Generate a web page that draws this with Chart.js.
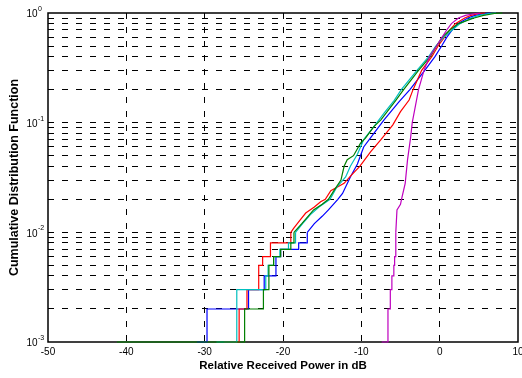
<!DOCTYPE html>
<html><head><meta charset="utf-8">
<script src="https://cdn.jsdelivr.net/npm/chart.js@4"></script>
<style>html,body{margin:0;padding:0;background:#fff;}#wrap{width:522px;height:378px;position:relative;}</style>
</head><body><div id="wrap"><canvas id="c"></canvas></div>
<script>
// ---- data ----
const xTickValues = [-50, -40, -30, -20, -10, 0, 10];
const yLabelValues = [1, 0.1, 0.01, 0.001];
const yLabelExps = ['0', '-1', '-2', '-3'];
const yMultipliers = [1, 2, 3, 4, 5, 6, 7, 8, 9];
const yDecades = [0.001, 0.01, 0.1];

// low tail (stair part) and upper part of each empirical CDF
const blueLowX = [-31, -29.7, -24.4, -22.4, -20.9, -20.3, -18.0, -16.9];
const blueLowY = [0.001, 0.002, 0.003, 0.004, 0.006, 0.007, 0.008, 0.010];
const blueHiX = [-16.9, -16.0, -15.0, -14.2, -13.0, -12.4, -11.4, -10.5, -9.7, -8.4, -7.1, -5.2, -3.8, -1.9, -0.6, 0.25, 0.9, 1.6, 2.3, 3.6, 4.5, 5.8, 6.5];
const blueHiY = [0.010, 0.012, 0.014, 0.016, 0.020, 0.0226, 0.032, 0.042, 0.060, 0.080, 0.106, 0.155, 0.20, 0.30, 0.40, 0.50, 0.60, 0.70, 0.80, 0.90, 0.95, 0.99, 1.0];

const greenLowX = [-41.2, -24.9, -22.5, -21.8, -21.2, -20.3, -19.0, -18.6];
const greenLowY = [0.001, 0.002, 0.003, 0.005, 0.006, 0.007, 0.008, 0.010];
const greenHiX = [-18.6, -17.6, -16.8, -16.1, -15.0, -14.2, -13.5, -12.6, -12.2, -11.8, -11.0, -10.1, -9.5, -8.4, -7.5, -5.6, -4.6, -2.7, -1.2, -0.4, 0.3, 1.3, 2.4, 4.4, 5.6, 7.0, 8.0];
const greenHiY = [0.010, 0.012, 0.014, 0.016, 0.018, 0.020, 0.024, 0.030, 0.040, 0.046, 0.050, 0.065, 0.072, 0.092, 0.106, 0.16, 0.20, 0.30, 0.40, 0.50, 0.60, 0.70, 0.80, 0.90, 0.95, 0.99, 1.0];

const redLowX = [-27.5, -25.6, -24.6, -23.1, -22.6, -21.6, -19.0];
const redLowY = [0.001, 0.002, 0.003, 0.005, 0.006, 0.008, 0.010];
const redHiX = [-19.0, -18.6, -17.8, -17.1, -16.0, -15.2, -14.6, -13.9, -12.2, -11.3, -10.2, -8.8, -7.5, -6.0, -5.0, -3.9, -3.4, -2.3, -1.0, -0.2, 0.6, 1.3, 2.0, 3.2, 4.0, 5.0, 5.8];
const redHiY = [0.010, 0.011, 0.013, 0.015, 0.017, 0.019, 0.020, 0.024, 0.028, 0.033, 0.040, 0.0545, 0.070, 0.095, 0.126, 0.161, 0.20, 0.30, 0.40, 0.50, 0.60, 0.70, 0.80, 0.90, 0.95, 0.99, 1.0];

const cyanLowX = [-28.5, -25.9, -22.2, -21.9, -21.2, -20.4, -19.3, -18.4];
const cyanLowY = [0.001, 0.003, 0.004, 0.005, 0.006, 0.007, 0.008, 0.010];
const cyanHiX = [-18.4, -17.5, -16.5, -15.4, -14.0, -13.1, -12.0, -11.4, -10.5, -9.7, -8.4, -7.1, -5.8, -4.9, -2.9, -1.4, -0.5, 0.5, 1.6, 2.6, 4.0, 5.0, 6.3, 7.2];
const cyanHiY = [0.010, 0.012, 0.0145, 0.017, 0.020, 0.026, 0.032, 0.040, 0.0515, 0.070, 0.092, 0.122, 0.16, 0.20, 0.30, 0.40, 0.50, 0.60, 0.70, 0.80, 0.90, 0.95, 0.99, 1.0];

const magLowX = [-7.4, -6.6, -6.3, -6.1, -5.85, -5.75, -5.6];
const magLowY = [0.001, 0.002, 0.003, 0.004, 0.005, 0.006, 0.010];
const magHiX = [-5.6, -5.45, -5.0, -4.8, -4.4, -4.1, -3.7, -3.5, -2.7, -2.0, -1.3, -0.4, 0.3, 0.9, 1.5, 2.4, 3.3, 4.6, 5.2];
const magHiY = [0.010, 0.016, 0.018, 0.021, 0.028, 0.046, 0.074, 0.10, 0.20, 0.30, 0.40, 0.50, 0.60, 0.70, 0.80, 0.90, 0.95, 0.99, 1.0];

const series = [
  {lx: blueLowX, ly: blueLowY, hx: blueHiX, hy: blueHiY, color: '#0000ff', order: 5},
  {lx: redLowX, ly: redLowY, hx: redHiX, hy: redHiY, color: '#ff0000', order: 4},
  {lx: cyanLowX, ly: cyanLowY, hx: cyanHiX, hy: cyanHiY, color: '#00bfbf', order: 3},
  {lx: greenLowX, ly: greenLowY, hx: greenHiX, hy: greenHiY, color: '#008000', order: 2},
  {lx: magLowX, ly: magLowY, hx: magHiX, hy: magHiY, color: '#bf00bf', order: 1}
];

const pts = (xs, ys) => xs.map((x, i) => ({x: x, y: ys[i]}));
const datasets = [];
series.forEach(s => {
  datasets.push({data: pts(s.lx, s.ly), borderColor: s.color, borderWidth: 1.2, pointRadius: 0, stepped: true, fill: false, order: s.order, clip: 2});
  datasets.push({data: pts(s.hx, s.hy), borderColor: s.color, borderWidth: 1.2, pointRadius: 0, tension: 0, fill: false, order: s.order, clip: 2});
});

const yGridValues = [];
yDecades.forEach(d => yMultipliers.forEach(m => yGridValues.push(+(d * m).toPrecision(3))));
yGridValues.push(1);

const FONT = '"Liberation Sans", Arial, Helvetica, sans-serif';
const near = (a, b) => Math.abs(a - b) < 1e-9 * Math.max(1, Math.abs(b));

const decor = {
  id: 'decor',
  beforeDatasetsDraw(chart) {
    const {ctx, chartArea: a} = chart;
    ctx.save();
    ctx.strokeStyle = '#000';
    ctx.lineWidth = 1.5;
    ctx.strokeRect(a.left, a.top, a.right - a.left, a.bottom - a.top);
    ctx.restore();
  },
  afterDraw(chart) {
    const {ctx, scales: {y}} = chart;
    ctx.save();
    ctx.fillStyle = '#000';
    yLabelValues.forEach((v, i) => {
      const py = y.getPixelForValue(v);
      ctx.font = '10px ' + FONT;
      ctx.textAlign = 'right';
      ctx.textBaseline = 'middle';
      ctx.fillText('10', 37.5, py + 1.5);
      ctx.font = '7px ' + FONT;
      ctx.textAlign = 'left';
      ctx.fillText(yLabelExps[i], 38, py - 4);
    });
    ctx.restore();
  }
};

new Chart(document.getElementById('c'), {
  type: 'line',
  data: {datasets: datasets},
  plugins: [decor],
  options: {
    responsive: true,
    maintainAspectRatio: false,
    animation: false,
    devicePixelRatio: 1,
    layout: {padding: {top: 13, right: 4, left: 0, bottom: 0}},
    plugins: {legend: {display: false}, tooltip: {enabled: false}},
    scales: {
      x: {
        type: 'linear',
        min: -50, max: 10,
        afterBuildTicks: s => { s.ticks = xTickValues.map(v => ({value: v})); },
        afterFit: s => { s.height = 36; s.paddingLeft = 0; s.paddingRight = 0; },
        ticks: {color: '#000', font: {family: FONT, size: 10}, padding: 4, maxRotation: 0, autoSkip: false},
        grid: {
          drawTicks: false,
          lineWidth: 1,
          color: c => (c.tick && (near(c.tick.value, -50) || near(c.tick.value, 10))) ? 'rgba(0,0,0,0)' : '#000'
        },
        border: {display: false, dash: [6, 8]},
        title: {display: true, text: 'Relative Received Power in dB', color: '#000',
                font: {family: FONT, size: 11.5, weight: 'bold'}, padding: {top: 0, bottom: 5}}
      },
      y: {
        type: 'logarithmic',
        min: 0.001, max: 1,
        afterBuildTicks: s => { s.ticks = yGridValues.map(v => ({value: v})); },
        afterFit: s => { s.width = 48; },
        ticks: {display: false},
        grid: {
          drawTicks: false,
          lineWidth: 1,
          color: c => (c.tick && (near(c.tick.value, 0.001) || near(c.tick.value, 1))) ? 'rgba(0,0,0,0)' : '#000'
        },
        border: {display: false, dash: [6, 8]},
        title: {display: true, text: 'Cumulative Distribution Function', color: '#000',
                font: {family: FONT, size: 12.5, weight: 'bold'}, padding: {top: 7, bottom: 0}}
      }
    }
  }
});
</script>
</body></html>
